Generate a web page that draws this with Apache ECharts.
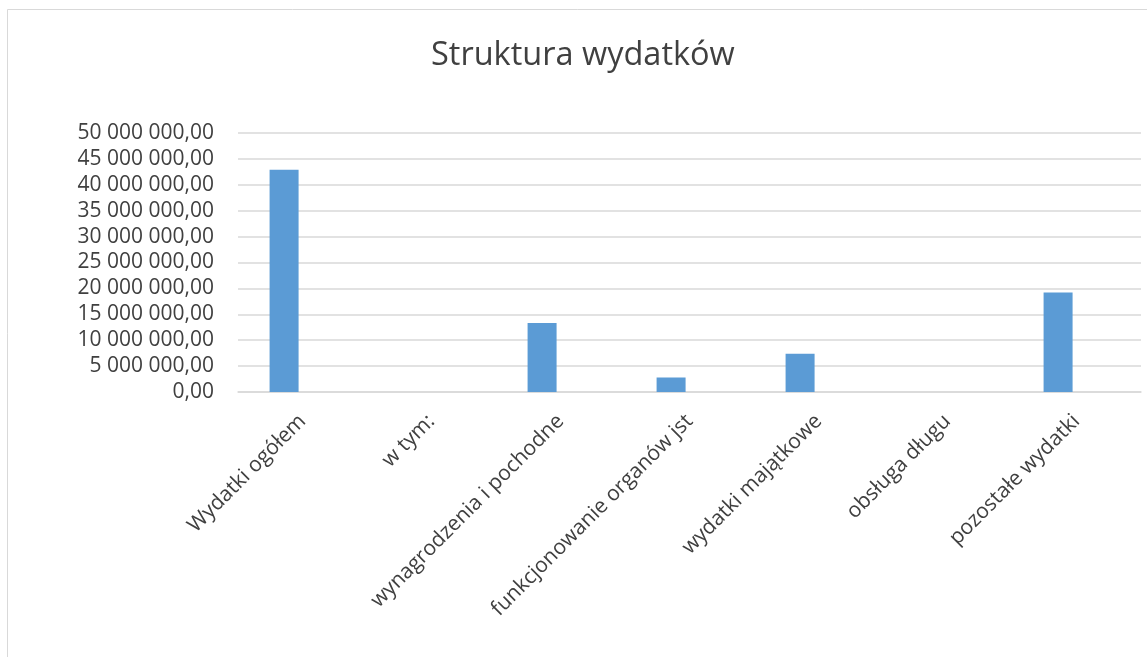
<!DOCTYPE html>
<html>
<head>
<meta charset="utf-8">
<script src="https://cdn.jsdelivr.net/npm/echarts@6/dist/echarts.min.js"></script>
<style>
html,body{margin:0;padding:0;background:#fff;}
#chart{width:1147px;height:657px;}
</style>
</head>
<body>
<div id="chart"></div>
<script>
const categories = ["Wydatki ogółem", "w tym:", "wynagrodzenia i pochodne", "funkcjonowanie organów jst", "wydatki majątkowe", "obsługa długu", "pozostałe wydatki"];
const values = [42900000, null, 13300000, 2800000, 7400000, 0, 19200000];
const values2 = [null, null, null, null, null, null, null];
const yTicks = { min: 0, max: 50000000, interval: 5000000 };

function plFormat(v) {
  const parts = v.toFixed(2).split('.');
  const intPart = parts[0].replace(/\B(?=(\d{3})+(?!\d))/g, ' ');
  return intPart + ',' + parts[1];
}

const chart = echarts.init(document.getElementById('chart'));
chart.setOption({
  animation: false,
  backgroundColor: '#ffffff',
  title: {
    text: 'Struktura wydatków',
    left: 426,
    top: 34,
    textStyle: { fontFamily: 'Open Sans', fontSize: 32.5, fontWeight: 'normal', color: '#404040' }
  },
  graphic: [{
    type: 'rect',
    shape: { x: 7.5, y: 9.5, width: 1300, height: 800 },
    style: { fill: 'none', stroke: '#d9d9d9', lineWidth: 1 },
    silent: true
  }],
  grid: { left: 238, top: 133, width: 903, height: 259, containLabel: false },
  xAxis: {
    type: 'category',
    data: categories,
    axisLine: { show: true, lineStyle: { color: '#d9d9d9', width: 1.5 } },
    axisTick: { show: false },
    axisLabel: {
      rotate: 45,
      interval: 0,
      margin: 26,
      fontFamily: 'Open Sans',
      fontSize: 21,
      color: '#404040'
    }
  },
  yAxis: {
    type: 'value',
    min: yTicks.min,
    max: yTicks.max,
    interval: yTicks.interval,
    axisLine: { show: false },
    axisTick: { show: false },
    splitLine: { lineStyle: { color: '#d9d9d9', width: 1.5 } },
    axisLabel: {
      margin: 24,
      fontFamily: 'Open Sans',
      fontSize: 21,
      color: '#404040',
      formatter: plFormat
    }
  },
  series: [
    { type: 'bar', data: values, barWidth: 29, barGap: '27%', itemStyle: { color: '#5b9bd5' } },
    { type: 'bar', data: values2, barWidth: 29, barGap: '27%', itemStyle: { color: '#ed7d31' } }
  ]
});
</script>
</body>
</html>
